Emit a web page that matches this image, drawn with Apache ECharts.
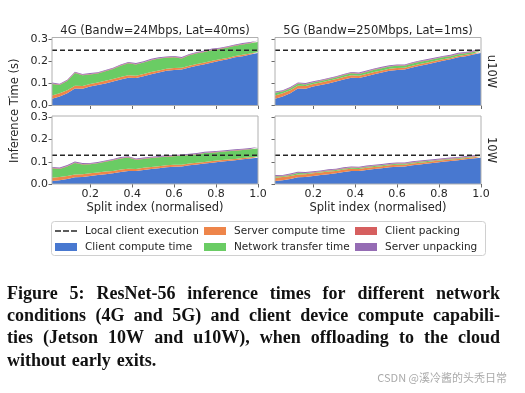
<!DOCTYPE html>
<html><head><meta charset="utf-8">
<script src="https://cdn.jsdelivr.net/npm/echarts@6/dist/echarts.min.js"></script>
<style>html,body{margin:0;padding:0;background:#fff}#c{width:525px;height:393px}</style>
</head><body><div id="c"></div>
<script>
// ---- data ----
const splitX = ['0.018','0.054','0.091','0.127','0.164','0.200','0.237','0.273','0.310','0.346','0.382','0.419','0.455','0.492','0.528','0.565','0.601','0.638','0.674','0.710','0.747','0.783','0.820','0.856','0.893','0.929','0.966','1.000'];
const clientU10W = [0.030,0.041,0.055,0.076,0.075,0.085,0.092,0.099,0.108,0.117,0.125,0.124,0.132,0.141,0.149,0.156,0.160,0.162,0.171,0.179,0.186,0.194,0.201,0.208,0.217,0.222,0.229,0.236];
const client10W = [0.013,0.017,0.022,0.030,0.031,0.036,0.040,0.044,0.048,0.054,0.058,0.058,0.063,0.067,0.071,0.075,0.078,0.079,0.084,0.088,0.092,0.096,0.100,0.104,0.107,0.111,0.115,0.118];
const serverCompute = [0.015,0.014,0.014,0.013,0.013,0.012,0.012,0.012,0.011,0.011,0.011,0.010,0.010,0.010,0.009,0.009,0.009,0.008,0.008,0.008,0.007,0.007,0.007,0.006,0.006,0.006,0.005,0.005];
const net4G_u10W = [0.052,0.037,0.041,0.057,0.048,0.043,0.040,0.043,0.045,0.051,0.054,0.051,0.051,0.053,0.053,0.050,0.048,0.042,0.047,0.048,0.048,0.049,0.046,0.047,0.046,0.047,0.046,0.045];
const net5G_u10W = [0.012,0.008,0.008,0.009,0.007,0.006,0.006,0.007,0.007,0.008,0.009,0.008,0.009,0.010,0.010,0.010,0.010,0.009,0.010,0.010,0.010,0.009,0.009,0.008,0.008,0.007,0.007,0.006];
const net4G_10W = [0.043,0.037,0.043,0.052,0.044,0.041,0.041,0.044,0.048,0.050,0.050,0.041,0.040,0.040,0.040,0.039,0.038,0.040,0.038,0.037,0.040,0.038,0.037,0.037,0.037,0.036,0.036,0.037];
const net5G_10W = [0.006,0.004,0.005,0.006,0.004,0.003,0.003,0.004,0.004,0.004,0.004,0.004,0.004,0.004,0.004,0.004,0.004,0.004,0.004,0.004,0.004,0.003,0.003,0.003,0.003,0.003,0.003,0.003];
const clientPacking = [0.002,0.002,0.002,0.002,0.002,0.002,0.002,0.002,0.002,0.002,0.002,0.002,0.002,0.002,0.002,0.002,0.002,0.002,0.002,0.002,0.002,0.002,0.002,0.002,0.002,0.002,0.002,0.002];
const serverUnpacking = [0.004,0.004,0.004,0.004,0.004,0.004,0.004,0.004,0.004,0.004,0.004,0.004,0.004,0.004,0.004,0.004,0.004,0.004,0.004,0.004,0.004,0.004,0.004,0.004,0.004,0.004,0.004,0.004];
const localU10W = 0.249;
const local10W = 0.129;
const panelTitles = ['4G (Bandw=24Mbps, Lat=40ms)', '5G (Bandw=250Mbps, Lat=1ms)'];
const rowLabels = ['u10W', '10W'];
const seriesNames = ['Local client execution','Client compute time','Server compute time','Network transfer time','Client packing','Server unpacking'];
const yTicks = [0, 0.1, 0.2, 0.3];
const xTicks = [0.2, 0.4, 0.6, 0.8, 1.0];
const yLabel = 'Inference Time (s)';
const xLabel = 'Split index (normalised)';
const captionLines = [
  'Figure 5: ResNet-56 inference times for different network',
  'conditions (4G and 5G) and client device compute capabili-',
  'ties (Jetson 10W and u10W), when offloading to the cloud',
  'without early exits.'
];
const watermark = 'CSDN @溪冷酱的头秃日常';

// ---- layout / style ----
const colors = ['#262626','#4878d0','#ee854a','#6acc64','#d65f5f','#956cb4'];
const grids = [
  {left:52, top:37.5, width:206, height:68},
  {left:275, top:37.5, width:206, height:68},
  {left:52, top:116, width:206, height:68},
  {left:275, top:116, width:206, height:68}
];
const panels = [
  {client: clientU10W, net: net4G_u10W, local: localU10W},
  {client: clientU10W, net: net5G_u10W, local: localU10W},
  {client: client10W, net: net4G_10W, local: local10W},
  {client: client10W, net: net5G_10W, local: local10W}
];
const FONT = 'DejaVu Sans';
const TXT = '#262626';
const xMin = parseFloat(splitX[0]), xMax = parseFloat(splitX[splitX.length-1]);
const yMax = 0.306;

const chart = echarts.init(document.getElementById('c'), null, {renderer:'canvas'});
const xAxes = [], yAxes = [], series = [];
grids.forEach((g, i) => {
  g.outerBoundsMode = 'none';
  // hidden category axis carrying the (evenly spaced) split points
  xAxes.push({
    type:'category', gridIndex:i, position:'top', data:splitX, boundaryGap:false,
    axisLine:{show:false}, axisTick:{show:false}, axisLabel:{show:false}, splitLine:{show:false}
  });
  // visible numeric axis over the same range for ticks / labels
  xAxes.push({
    type:'value', gridIndex:i, position:'bottom', min:xMin, max:xMax,
    axisLine:{show:false}, splitLine:{show:false},
    axisTick:{show:true, length:3.5, customValues:xTicks, lineStyle:{color:'#444', width:0.8}},
    axisLabel:{show:i>=2, customValues:xTicks, formatter:v=>v.toFixed(1), fontSize:11, fontFamily:FONT, color:TXT, margin:5}
  });
  yAxes.push({
    type:'value', gridIndex:i, min:0, max:yMax,
    axisLine:{show:false}, splitLine:{show:false},
    axisTick:{show:true, length:3.5, customValues:yTicks, lineStyle:{color:'#444', width:0.8}},
    axisLabel:{show:i%2===0, customValues:yTicks, formatter:v=>v.toFixed(1), fontSize:11, fontFamily:FONT, color:TXT, margin:4}
  });
  const p = panels[i];
  const stacks = [p.client, serverCompute, p.net, clientPacking, serverUnpacking];
  stacks.forEach((arr, k) => {
    series.push({
      type:'line', name:seriesNames[k+1], xAxisIndex:2*i, yAxisIndex:i, stack:'s'+i,
      data: arr.slice(),
      symbol:'none', lineStyle:{width:0}, areaStyle:{opacity:1, color:colors[k+1]},
      itemStyle:{color:colors[k+1]}, color:colors[k+1], z:2, silent:true, animation:false
    });
  });
  series.push({
    type:'line', name:seriesNames[0], xAxisIndex:2*i, yAxisIndex:i,
    data: splitX.map(() => p.local), symbol:'none',
    lineStyle:{color:colors[0], width:1.5, type:[5,3]}, itemStyle:{color:colors[0]},
    color:colors[0], z:5, silent:true, animation:false
  });
});

// legends: 3 columns x 2 rows
const legCols = [55, 204, 355], legRows = [231, 247];
const legends = [];
seriesNames.forEach((n, k) => {
  const col = Math.floor(k/2), row = k%2;
  const isLine = k === 0;
  legends.push({
    left:legCols[col], top:legRows[row]-6.5, padding:0, itemGap:0,
    itemWidth:22, itemHeight: isLine ? 1.6 : 8, selectedMode:false, symbolKeepAspect:false,
    itemStyle:{borderWidth:0},
    textStyle:{fontSize:10.5, fontFamily:FONT, color:TXT, padding:[0,0,0,3], lineHeight:13},
    data:[ isLine ? {name:n, icon:'path://M0,0h6v1h-6zM8,0h6v1h-6zM16,0h6v1h-6z'} : {name:n, icon:'rect'} ]
  });
});

// graphics
const gr = [];
grids.forEach(g => {
  gr.push({type:'rect', z:50, silent:true,
    shape:{x:g.left, y:g.top, width:g.width, height:g.height},
    style:{fill:null, stroke:'#b0b0b0', lineWidth:1}});
});
panelTitles.forEach((t, i) => {
  gr.push({type:'text', x:grids[i].left+grids[i].width/2, y:31, z:50,
    style:{text:t, fontSize:11.5, fontFamily:FONT, fill:TXT, align:'center', verticalAlign:'middle'}});
});
rowLabels.forEach((t, r) => {
  const g = grids[r*2+1];
  gr.push({type:'text', x:g.left+g.width+10, y:g.top+g.height/2, rotation:-Math.PI/2, z:50,
    style:{text:t, fontSize:11.5, fontFamily:FONT, fill:TXT, align:'center', verticalAlign:'middle'}});
});
gr.push({type:'text', x:15, y:(grids[0].top + grids[2].top + grids[2].height)/2, rotation:Math.PI/2, z:50,
  style:{text:yLabel, fontSize:11.5, fontFamily:FONT, fill:TXT, align:'center', verticalAlign:'middle'}});
[2,3].forEach(i => {
  gr.push({type:'text', x:grids[i].left+grids[i].width/2, y:208, z:50,
    style:{text:xLabel, fontSize:11.5, fontFamily:FONT, fill:TXT, align:'center', verticalAlign:'middle'}});
});
gr.push({type:'rect', z:1, silent:true, shape:{x:51.5, y:221.5, width:434, height:34, r:3},
  style:{fill:'#fff', stroke:'#d0d0d0', lineWidth:1}});

// caption (justified)
const capSize = 18, capFam = 'Liberation Serif', capL = 7, capR = 500, capY0 = 294, capDY = 22.3;
const ctx = document.createElement('canvas').getContext('2d');
ctx.font = 'bold ' + capSize + 'px "' + capFam + '"';
captionLines.forEach((line, li) => {
  const words = line.split(' ');
  const ws = words.map(w => ctx.measureText(w).width);
  const sum = ws.reduce((a,b)=>a+b, 0);
  const last = li === captionLines.length-1;
  const gap = last ? ctx.measureText(' ').width * 1.3 : (capR - capL - sum)/(words.length-1);
  let x = capL;
  words.forEach((w, k) => {
    gr.push({type:'text', x:x, y:capY0 + li*capDY, z:50,
      style:{text:w, fontSize:capSize, fontFamily:capFam, fontWeight:'bold', fill:'#111', align:'left', verticalAlign:'middle'}});
    x += ws[k] + gap;
  });
});
gr.push({type:'text', x:507, y:378, z:50,
  style:{text:watermark, fontSize:11, fontFamily:'Noto Sans CJK SC', fill:'#aaa', align:'right', verticalAlign:'middle'}});

chart.setOption({
  animation:false,
  backgroundColor:'#fff',
  grid:grids, xAxis:xAxes, yAxis:yAxes, series:series,
  legend:legends,
  graphic:{elements:gr}
});
</script></body></html>
